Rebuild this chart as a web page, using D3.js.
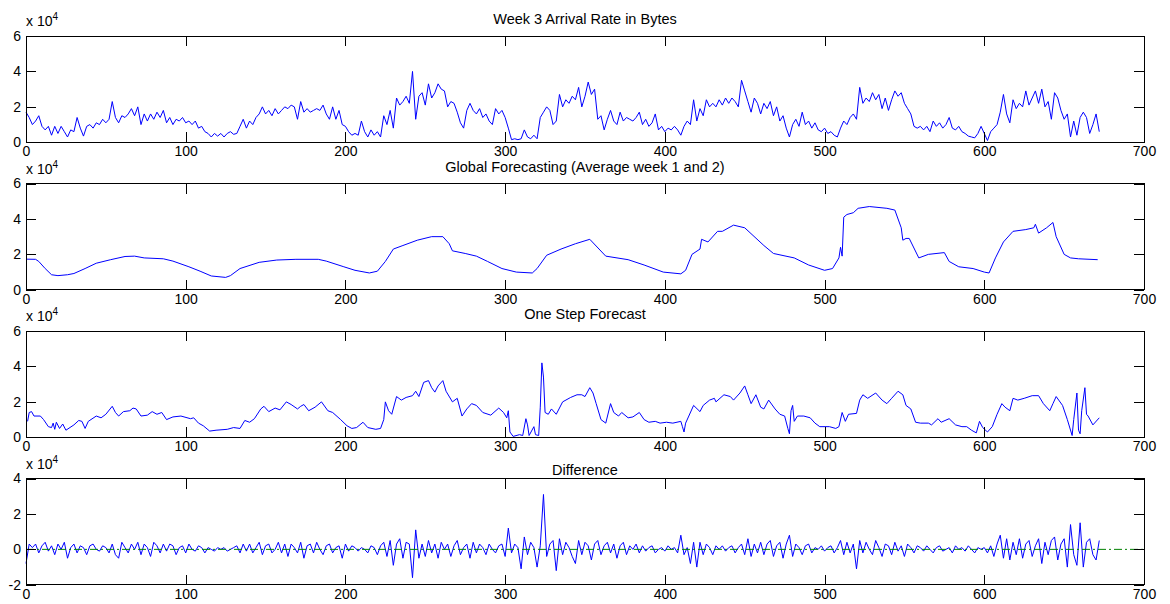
<!DOCTYPE html>
<html><head><meta charset="utf-8">
<script src="https://cdn.jsdelivr.net/npm/d3@7"></script>
<style>
body{margin:0;background:#fff;}
svg{display:block;background:#fff;}
</style>
</head><body>
<svg id="c" width="1170" height="604"></svg>
<script>
// ---------------- DATA (values in units of 10^4 bytes) ----------------
const titles = ["Week 3 Arrival Rate in Bytes", "Global Forecasting (Average week 1 and 2)", "One Step Forecast", "Difference"];
const xTicks = [0, 100, 200, 300, 400, 500, 600, 700];
const xTickLabels = ["0", "100", "200", "300", "400", "500", "600", "700"];
const yTicksPos = [0, 2, 4, 6];
const yTickLabelsPos = ["0", "2", "4", "6"];
const yTicksDiff = [-2, 0, 2, 4];
const yTickLabelsDiff = ["-2", "0", "2", "4"];
const exponentBase = "x 10";
const exponentPower = "4";

// Week 3 arrival rate, sampled every 2 time steps from 0 to 672
const week3Step = 2;
const week3 = [
 1.7,1.4,1.0,1.2,1.5,0.9,0.7,0.9,0.4,0.9,
 0.5,0.9,0.6,0.3,0.7,0.6,1.4,0.8,0.35,0.9,
 1.0,0.8,1.1,1.0,1.3,1.1,1.3,2.3,1.4,1.1,
 1.5,1.4,1.6,1.9,1.5,2.0,1.0,1.6,1.2,1.6,
 1.3,1.7,1.4,1.8,1.1,1.4,1.0,1.3,1.2,1.4,
 1.1,1.2,1.0,1.2,0.8,0.9,0.6,0.5,0.3,0.5,
 0.35,0.5,0.3,0.5,0.6,0.45,0.5,0.9,1.3,0.8,
 1.2,1.0,1.4,1.6,2.0,1.6,1.8,1.5,1.9,1.6,
 1.8,2.0,1.9,2.1,2.0,1.3,2.3,1.7,1.9,1.7,
 1.8,1.9,1.8,2.1,1.6,1.3,2.0,1.3,1.8,1.0,
 0.9,0.6,0.4,0.5,0.4,1.2,0.6,0.3,0.7,0.4,
 0.6,0.3,1.5,1.0,1.8,0.8,2.5,2.1,2.3,2.6,
 2.2,4.0,1.3,2.6,2.8,2.1,3.3,2.5,2.8,3.3,
 3.0,2.9,2.0,2.3,2.2,1.7,1.1,0.8,1.8,2.2,
 1.8,1.6,1.9,1.4,1.6,1.2,1.0,1.9,1.6,1.8,
 1.4,0.8,0.15,0.2,0.15,0.2,0.7,0.3,0.2,0.4,
 0.2,1.4,1.7,2.0,1.8,1.0,1.2,2.7,2.0,2.4,
 2.2,2.6,2.4,3.1,2.0,2.6,3.4,2.7,3.0,1.3,
 1.5,0.7,1.3,1.8,1.2,1.0,1.7,1.2,1.4,1.3,
 1.2,1.4,1.7,1.0,1.3,0.9,1.1,1.6,0.7,0.9,
 0.6,0.8,0.7,0.9,0.7,0.4,0.9,1.2,1.0,2.4,
 1.2,1.9,1.5,2.4,2.0,2.2,2.0,2.4,2.1,2.5,
 2.2,2.5,2.3,2.0,3.5,2.9,2.3,1.7,2.5,2.2,
 1.6,2.2,1.9,2.3,1.5,2.0,1.2,1.5,0.8,0.3,
 1.0,1.3,0.9,1.7,1.0,1.2,0.8,1.1,0.7,0.6,
 0.8,0.5,0.6,0.4,0.3,0.8,1.2,1.0,1.4,1.6,
 1.3,3.1,2.2,2.5,2.3,2.8,2.4,2.7,1.9,2.5,
 1.8,2.4,2.9,2.6,2.8,2.2,1.9,1.6,0.9,0.8,
 0.9,0.7,0.9,0.6,1.2,0.9,1.1,0.8,1.0,1.4,
 0.8,0.7,0.9,0.6,0.5,0.35,0.3,0.25,0.5,0.9,
 0.5,0.1,0.6,0.8,1.0,1.7,2.7,1.6,1.1,2.4,
 1.9,2.2,2.0,2.9,2.1,2.5,2.9,2.2,3.0,2.0,
 2.3,1.3,2.8,2.5,1.8,1.3,1.6,0.3,1.2,0.4,
 1.4,1.7,1.4,0.5,1.0,1.6,0.6
];

// Global forecasting (average of weeks 1 and 2): read points
const globalHour = [0,6,8,12,16,20,26,30,37,44,53,62,68,74,86,92,102,109,116,125,128,134,146,157,169,183,188,199,206,215,220,225,230,236,245,254,261,265,267,275,282,289,298,307,317,320,326,335,344,353,363,377,387,399,410,413,417,422,423,427,433,436,443,450,462,468,481,490,500,505,509,510,511,512,514,518,521,528,539,544,548,549,551,553,559,565,575,578,584,593,600,603,607,612,618,626,631,632,634,639,643,645,650,654,659,671];
const globalValue = [1.73,1.72,1.6,1.2,0.85,0.8,0.85,0.92,1.2,1.5,1.7,1.88,1.9,1.8,1.75,1.62,1.3,1.05,0.78,0.7,0.8,1.2,1.55,1.68,1.72,1.72,1.62,1.3,1.1,0.95,1.05,1.6,2.3,2.5,2.8,3.0,3.0,2.6,2.2,2.05,1.9,1.6,1.2,1.0,0.95,1.2,1.95,2.3,2.6,2.85,1.9,1.7,1.4,1.0,0.9,1.1,2.0,2.3,2.85,2.7,3.3,3.3,3.65,3.5,2.5,2.05,1.8,1.4,1.1,1.2,1.8,2.4,1.9,4.1,4.25,4.35,4.6,4.7,4.6,4.5,3.5,2.8,2.9,2.9,1.8,2.0,2.1,1.6,1.3,1.2,1.0,0.95,1.8,2.7,3.3,3.4,3.5,3.7,3.2,3.5,3.8,3.0,2.0,1.8,1.75,1.7];

// One step forecast: read points
const oneStepHour = [1,2,3.5,5,9,11,14,16,17,18,19,21,23,25,30,33,35,37,39,44,47,50,54,56,58,61,65,67,69,72,76,79,82,85,88,92,97,103,105,108,111,115,119,126,130,134,137,140,143,147,149,152,156,159,163,166,170,172,174,177,181,185,189,192,197,201,204,207,211,214,219,222,224,225,227,229,232,235,238,242,244,246,249,252,254,256,258,261,263,267,270,273,276,279,282,286,291,296,299,301,302,303,305,309,311,313,314,315,318,319,321,322,323,324,325,327,329,332,336,341,345,348,350,353,355,357,360,363,366,368,371,373,377,380,384,387,390,394,397,401,405,410,411,412,413,415,418,422,424,428,431,432,437,441,443,447,450,452,454,457,460,462,465,469,472,475,477,478,479,480,481,483,487,491,494,497,503,507,509,511,513,515,520,522,524,527,532,536,539,542,546,549,551,554,557,560,565,567,571,573,578,582,586,589,592,595,597,599,602,605,608,611,613,616,618,621,625,630,634,637,641,643,645,649,652,655,656,658,659,660,661,663,664,665,668,672];
const oneStepValue = [0.9,1.4,1.45,1.2,1.2,1.0,0.6,0.55,0.8,0.45,0.85,0.5,0.75,0.4,0.7,0.95,0.9,0.5,0.9,1.2,1.1,1.3,1.75,1.4,1.2,1.45,1.5,1.65,1.6,1.2,1.25,1.45,1.3,1.4,1.0,1.15,1.2,1.05,1.1,0.8,0.65,0.35,0.4,0.45,0.55,0.5,0.95,0.85,1.05,1.6,1.75,1.45,1.65,1.55,2.0,1.85,1.6,1.75,1.85,1.5,1.7,2.0,1.5,1.4,1.0,0.65,0.5,0.55,0.85,0.55,0.45,0.5,1.0,2.0,1.5,1.3,2.3,2.1,2.25,2.35,2.6,2.3,3.1,3.2,2.8,2.55,2.9,3.2,2.6,2.0,2.2,1.2,1.6,1.9,1.8,1.4,1.25,1.65,1.4,1.1,1.5,0.3,0.05,0.15,0.1,1.05,0.7,0.1,0.6,0.15,0.1,1.7,4.2,3.4,1.4,1.3,1.6,1.3,2.0,2.25,2.4,2.4,2.3,2.8,2.5,1.9,1.0,0.8,1.9,1.4,1.2,1.4,1.1,1.15,1.4,1.0,0.85,0.9,0.8,0.85,0.8,0.9,0.6,0.3,0.8,1.2,1.8,1.45,1.8,2.1,2.2,2.0,2.4,2.3,2.1,2.5,2.9,2.4,1.9,2.4,1.7,1.6,2.1,1.6,1.3,1.2,0.5,0.2,1.5,1.8,0.9,1.2,1.2,1.1,0.8,0.6,0.6,0.5,0.6,1.4,0.9,1.3,1.35,2.1,2.4,2.2,2.5,2.1,1.9,2.2,2.6,2.4,1.8,1.6,0.85,0.8,0.8,0.7,1.05,0.85,1.05,0.7,0.6,0.6,0.4,0.25,0.9,0.55,0.3,0.6,1.3,1.9,1.7,1.5,2.2,2.1,2.2,2.35,2.35,1.9,1.5,1.9,2.3,1.8,1.0,0.1,1.0,2.5,0.4,0.2,1.5,2.8,1.3,1.2,0.7,1.1];

// Difference, sampled every 2 time steps from 0 to 672
const diffStep = 2;
const difference = [
 -0.8,0.3,0.1,0.3,-0.2,0.2,0.4,-0.1,0.2,-0.3,
 0.3,0.0,0.4,-0.5,0.1,0.3,-0.2,0.2,0.1,-0.3,
 0.2,0.3,0.0,-0.1,0.2,0.1,-0.2,0.3,-0.3,-0.5,
 0.4,0.1,-0.2,0.3,0.0,0.4,-0.3,0.3,0.1,-0.4,
 0.4,0.2,-0.2,0.3,-0.1,0.3,0.2,-0.3,0.1,0.2,
 -0.2,0.3,0.0,-0.1,0.2,0.1,-0.2,0.1,0.0,-0.1,
 0.1,0.0,0.1,-0.1,0.0,0.1,0.2,-0.2,0.3,-0.1,
 0.3,-0.2,0.1,0.4,-0.3,0.2,0.3,-0.2,0.0,0.4,
 -0.2,0.3,-0.4,0.3,0.1,-0.2,0.4,-0.5,0.2,0.3,
 -0.2,0.4,0.0,-0.3,0.2,0.3,-0.2,0.1,0.2,-0.5,
 0.3,-0.1,0.2,0.1,-0.1,0.1,0.0,-0.2,0.2,0.1,
 -0.3,0.2,0.4,-0.4,0.5,-0.9,0.3,0.6,-0.5,0.4,
 0.3,-1.6,1.1,-0.5,0.3,-0.4,0.5,-0.2,0.3,-0.5,
 0.4,0.0,0.3,-0.4,0.2,0.5,-0.3,0.1,0.3,-0.5,
 0.4,-0.2,0.3,0.1,-0.3,0.3,0.0,-0.2,0.2,0.3,
 -0.4,1.2,-0.2,0.3,0.1,-1.1,0.7,-0.3,0.4,0.1,
 -1.0,0.2,3.1,-0.4,0.3,0.5,-1.2,0.6,-0.3,0.4,
 0.1,-0.4,-0.8,0.5,-0.3,0.4,0.2,-0.6,0.3,0.5,
 -0.3,0.2,0.4,-0.2,0.3,-0.5,0.2,0.4,-0.3,0.2,
 0.0,0.3,-0.2,0.2,-0.1,0.1,0.2,-0.2,0.0,0.1,
 -0.1,0.2,0.0,0.1,-0.2,0.8,-0.3,0.1,-0.8,0.4,
 -1.0,0.4,-0.3,0.3,0.1,-0.3,0.2,0.0,0.2,-0.1,
 0.1,0.2,-0.2,0.1,0.3,-0.3,0.6,-0.4,0.3,-0.2,
 0.4,-0.3,0.3,0.5,-0.4,0.2,0.4,-0.5,0.3,0.8,
 -0.4,0.3,0.1,-0.3,0.2,0.3,-0.2,0.1,0.0,0.2,
 -0.1,0.1,0.2,-0.2,0.1,0.5,-0.3,0.4,-0.2,0.3,
 -1.1,0.5,-0.2,0.4,0.0,-0.3,0.5,0.1,-0.4,0.3,
 0.2,-0.3,0.4,-0.1,0.2,-0.4,0.3,0.1,-0.2,0.2,
 0.1,-0.1,0.2,0.0,-0.2,0.1,0.2,-0.1,0.0,0.1,
 -0.2,0.2,0.0,0.1,-0.1,0.2,0.0,-0.2,0.1,0.0,
 0.1,-0.2,0.2,-0.4,0.3,0.8,-0.5,0.6,-0.6,0.4,
 -0.3,0.6,-0.5,0.3,0.5,-0.4,0.2,0.6,-0.8,0.4,
 -0.3,0.5,0.7,-0.6,0.3,0.6,-1.0,1.4,-0.3,-0.9,
 1.5,-1.0,0.4,0.6,-0.3,-0.6,0.5
];
// zero reference line endpoints in the Difference panel
const zeroLineHours = [0, 700];
const zeroLineValues = [0, 0];

// ---------------- LAYOUT / STYLE ----------------
const FONT = "'Liberation Sans', Arial, Helvetica, sans-serif";
const L = 26, R = 1144;
const panelTops = [36, 183.5, 331, 478.5];
const panelH = 106.3;
const titleOffsets = [12, 12, 12, 4];
const TICK = 10;

const svg = d3.select("#c");
const x = d3.scaleLinear().domain([0, 700]).range([L, R]);

const toPts = (xs, ys) => xs.map((h, i) => [h, ys[i]]);
const stepPts = (vals, step) => vals.map((v, i) => [i * step, v]);

const panels = [
  { title: titles[0], domain: [0, 6], ticks: yTicksPos, labels: yTickLabelsPos,
    series: [{ pts: stepPts(week3, week3Step), color: "#0000ff" }] },
  { title: titles[1], domain: [0, 6], ticks: yTicksPos, labels: yTickLabelsPos,
    series: [{ pts: toPts(globalHour, globalValue), color: "#0000ff" }] },
  { title: titles[2], domain: [0, 6], ticks: yTicksPos, labels: yTickLabelsPos,
    series: [{ pts: toPts(oneStepHour, oneStepValue), color: "#0000ff" }] },
  { title: titles[3], domain: [-2, 4], ticks: yTicksDiff, labels: yTickLabelsDiff,
    series: [{ pts: stepPts(difference, diffStep), color: "#0000ff" },
             { pts: toPts(zeroLineHours, zeroLineValues), color: "#008000", dash: "8,3,2,3" }] }
];

panels.forEach((p, i) => {
  const top = panelTops[i], bottom = top + panelH;
  const y = d3.scaleLinear().domain(p.domain).range([bottom, top]);
  const g = svg.append("g");

  const line = d3.line().x(d => x(d[0])).y(d => y(d[1]));
  p.series.forEach(s => {
    g.append("path").datum(s.pts)
      .attr("d", line)
      .attr("fill", "none")
      .attr("stroke", s.color)
      .attr("stroke-width", 1)
      .attr("stroke-dasharray", s.dash || null);
  });

  const styleAxis = sel => {
    sel.select(".domain").remove();
    sel.selectAll(".tick line").attr("stroke", "#000").attr("shape-rendering", "crispEdges");
    sel.selectAll("text").attr("font-family", FONT).attr("font-size", 14).attr("fill", "#000");
    sel.attr("font-family", null).attr("font-size", null);
  };

  g.append("g").attr("transform", `translate(0,${bottom})`)
    .call(d3.axisBottom(x).tickValues(xTicks).tickFormat((d, k) => xTickLabels[k])
      .tickSizeInner(-TICK).tickSizeOuter(0).tickPadding(4))
    .call(styleAxis);
  g.append("g").attr("transform", `translate(0,${top})`)
    .call(d3.axisTop(x).tickValues(xTicks).tickFormat("")
      .tickSizeInner(-TICK).tickSizeOuter(0))
    .call(styleAxis);
  g.append("g").attr("transform", `translate(${L},0)`)
    .call(d3.axisLeft(y).tickValues(p.ticks).tickFormat((d, k) => p.labels[k])
      .tickSizeInner(-TICK).tickSizeOuter(0).tickPadding(5))
    .call(styleAxis);
  g.append("g").attr("transform", `translate(${R},0)`)
    .call(d3.axisRight(y).tickValues(p.ticks).tickFormat("")
      .tickSizeInner(-TICK).tickSizeOuter(0))
    .call(styleAxis);

  g.append("rect")
    .attr("x", L).attr("y", top).attr("width", R - L).attr("height", panelH)
    .attr("fill", "none").attr("stroke", "#000").attr("stroke-width", 1)
    .attr("shape-rendering", "crispEdges");

  g.append("text")
    .attr("x", (L + R) / 2).attr("y", top - titleOffsets[i])
    .attr("text-anchor", "middle")
    .attr("font-family", FONT).attr("font-size", 14.5)
    .text(p.title);

  const ex = g.append("text")
    .attr("x", L).attr("y", top - 10)
    .attr("font-family", FONT).attr("font-size", 14);
  ex.append("tspan").text(exponentBase);
  ex.append("tspan").attr("dy", -6).attr("font-size", 10).text(exponentPower);
});
</script>
</body></html>
